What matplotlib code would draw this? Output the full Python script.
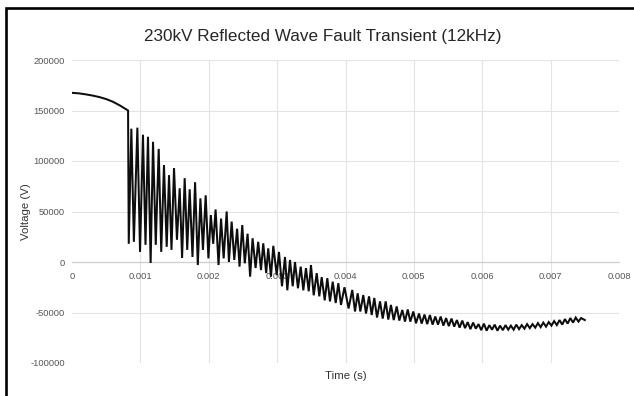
import matplotlib
matplotlib.use("Agg")
import matplotlib.pyplot as plt
from matplotlib import font_manager as fm
from matplotlib.patches import Rectangle

W, H = 634, 396

# ---------------- data ----------------
pre_t = [0.0, 0.0001, 0.0002, 0.0003, 0.0004, 0.0005, 0.0006, 0.0007, 0.00082, 0.000830]
pre_v = [167500, 167000, 166000, 164800, 163300, 161300, 158600, 155000, 150000, 18000]

osc_t = [
    0.000868, 0.000905, 0.000956, 0.000995, 0.001038, 0.001075, 0.001111, 0.001150,
    0.001185, 0.001225, 0.001268, 0.001305, 0.001345, 0.001385, 0.001419, 0.001455,
    0.001492, 0.001535, 0.001575, 0.001610, 0.001648, 0.001685, 0.001721, 0.001762,
    0.001800, 0.001840, 0.001878, 0.001915, 0.001955, 0.001995, 0.002030, 0.002065,
    0.002100, 0.002143, 0.002180, 0.002218, 0.002262, 0.002295, 0.002335, 0.002373,
    0.002415, 0.002450, 0.002490, 0.002527, 0.002568, 0.002605, 0.002641, 0.002685,
    0.002723, 0.002764, 0.002797, 0.002840, 0.002870, 0.002910, 0.002944, 0.002994,
    0.003027, 0.003071, 0.003115, 0.003149, 0.003188, 0.003228, 0.003261, 0.003305,
    0.003345, 0.003383, 0.003422, 0.003462, 0.003495, 0.003535, 0.003579, 0.003617,
    0.003652, 0.003696, 0.003734, 0.003773, 0.003813, 0.003857, 0.003895, 0.003934,
    0.003985, 0.004045, 0.004099, 0.004139, 0.004178, 0.004217, 0.004260, 0.004300,
    0.004344, 0.004383, 0.004421, 0.004461, 0.004505, 0.004544, 0.004588, 0.004626,
    0.004665, 0.004705, 0.004749, 0.004787, 0.004831, 0.004870, 0.004910, 0.004948,
    0.004992, 0.005031, 0.005075, 0.005114,
    0.005155, 0.005195, 0.005234, 0.005274, 0.005313, 0.005353, 0.005392, 0.005432,
    0.005471, 0.005511, 0.005550, 0.005590, 0.005629, 0.005669, 0.005708, 0.005748,
    0.005787, 0.005827, 0.005866, 0.005906, 0.005945, 0.005985, 0.006024, 0.006064,
    0.006103, 0.006143, 0.006182, 0.006222, 0.006261, 0.006301, 0.006340, 0.006380,
    0.006419, 0.006459, 0.006498, 0.006538, 0.006577, 0.006617, 0.006656, 0.006696,
    0.006735, 0.006775, 0.006814, 0.006854, 0.006893, 0.006933, 0.006972, 0.007012,
    0.007051, 0.007091, 0.007130, 0.007170, 0.007209, 0.007249, 0.007288, 0.007328,
    0.007367, 0.007407, 0.007446, 0.007500,
]
osc_v = [
    132000, 20000, 133000, 10000, 126000, 17000, 124000, -1000,
    119000, 17000, 112000, 10000, 96000, 15000, 86000, 12000,
    93000, 22000, 73000, 4000, 83000, 12000, 72000, 5000,
    79000, -3000, 63000, 12000, 66000, 3600, 46500, 18000,
    52000, -3000, 43000, 3600, 50000, 0, 40000, 2000,
    33000, -4600, 36600, -1300, 28000, -14500, 23500, -6000,
    20000, -8000, 18500, -11000, 13500, -14500, 16000, -13000,
    10000, -24000, 5000, -28000, 2000, -24000, 0, -26000,
    -4600, -28000, -6000, -29000, -3000, -33000, -11000, -34000,
    -15000, -38000, -16000, -39000, -19500, -40600, -21000, -42500,
    -25000, -46000, -27700, -49000, -31000, -49000, -32700, -51000,
    -34000, -52500, -35600, -55000, -39000, -56000, -39000, -57000,
    -42500, -57500, -44000, -58000, -47500, -59000, -47000, -59000,
    -49000, -60700, -51000, -61000,
    -52000, -61500, -52500, -62000, -54000, -62000, -54000, -63000,
    -55500, -63500, -56000, -64000, -57500, -65000, -58000, -65500,
    -59500, -66500, -60000, -66000, -61500, -67500, -61000, -68000,
    -62500, -67000, -62000, -68000, -63000, -67500, -62500, -67000,
    -63000, -67000, -62000, -66500, -62500, -66000, -61500, -65500,
    -61500, -65000, -60500, -64500, -60000, -64000, -59500, -63000,
    -58500, -62500, -57500, -62000, -56500, -61000, -55500, -60000,
    -55000, -59000, -55500, -57500,
]

x_ticks = [0.0, 0.001, 0.002, 0.003, 0.004, 0.005, 0.006, 0.007, 0.008]
x_labels = ["0", "0.001", "0.002", "0.003", "0.004", "0.005", "0.006", "0.007", "0.008"]
y_ticks = [-100000, -50000, 0, 50000, 100000, 150000, 200000]
y_labels = ["-100000", "-50000", "0", "50000", "100000", "150000", "200000"]

title = "230kV Reflected Wave Fault Transient (12kHz)"
x_title = "Time (s)"
y_title = "Voltage (V)"

# ---------------- fonts ----------------
avail = {f.name for f in fm.fontManager.ttflist}
narrow = "Liberation Sans Narrow" in avail
fam = "Liberation Sans Narrow" if narrow else "Liberation Sans"
plt.rcParams["font.family"] = [fam, "DejaVu Sans"]
k = 1.0 if narrow else 0.82

# ---------------- figure ----------------
fig = plt.figure(figsize=(W / 100, H / 100), dpi=100)
fig.patch.set_facecolor("white")

L, R, T, B = 72, 619, 60, 363
ax = fig.add_axes([L / W, 1 - B / H, (R - L) / W, (B - T) / H])
ax.set_facecolor("none")

t_all = pre_t + osc_t
v_all = pre_v + osc_v
ax.plot(t_all, v_all, color="#0d0d0d", lw=1.45, zorder=3, solid_joinstyle="miter")

ax.set_xlim(0, 0.008)
ax.set_ylim(-100000, 200000)
ax.set_xticks(x_ticks)
ax.set_xticklabels(x_labels)
ax.set_yticks(y_ticks)
ax.set_yticklabels(y_labels)

for s in ["top", "right", "left"]:
    ax.spines[s].set_visible(False)
ax.spines["bottom"].set_position(("data", 0))
ax.spines["bottom"].set_color("#cfcfcf")
ax.spines["bottom"].set_linewidth(0.9)

ax.grid(True, color="#e3e3e3", lw=0.8)
ax.set_axisbelow(True)
ax.get_xgridlines()[0].set_visible(False)

ax.tick_params(axis="both", length=0, colors="#555555", labelsize=8.1 * k)
ax.tick_params(axis="x", pad=7)
ax.tick_params(axis="y", pad=5)

fig.text(322.5 / W, 1 - 40.7 / H, title, ha="center", va="baseline",
         fontsize=15 * k, color="#262626")
fig.text(345.5 / W, 1 - 379.3 / H, x_title, ha="center", va="baseline",
         fontsize=10 * k, color="#333333")
fig.text(26 / W, 1 - 211.5 / H, y_title, ha="center", va="center", rotation=90,
         fontsize=10 * k, color="#333333")

fig.add_artist(Rectangle((6 / W, -0.1), 1.2, 1 - 8 / H + 0.1, transform=fig.transFigure,
                         fill=False, lw=1.9, ec="black", clip_on=False))

fig.savefig("out.png", dpi=100, facecolor="white")
